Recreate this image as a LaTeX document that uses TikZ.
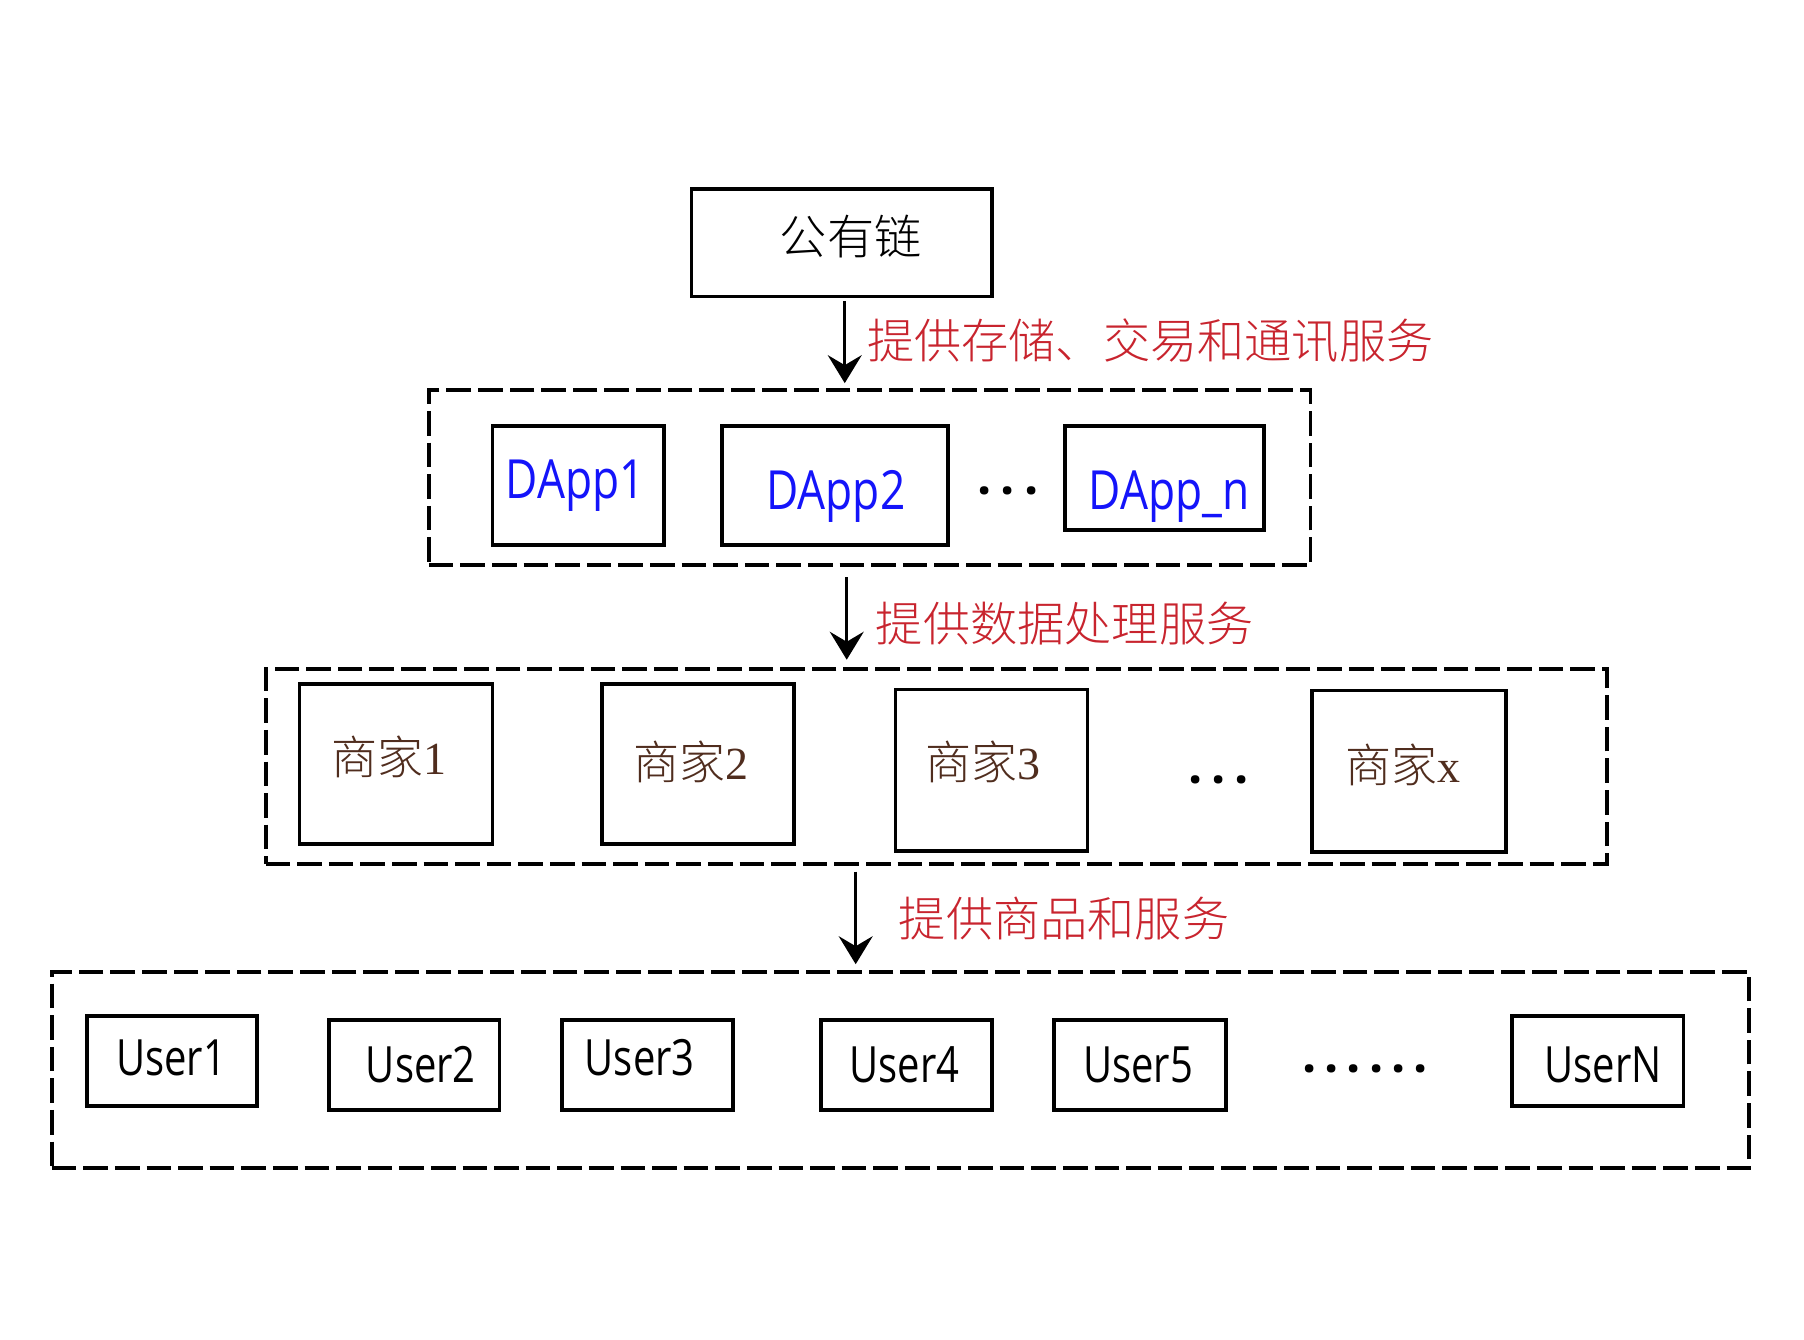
\documentclass[tikz,border=0pt]{standalone}
\usepackage{fontspec}
\usetikzlibrary{arrows.meta,positioning}
\setmainfont{Open Sans}[FakeStretch=0.8]
\newfontfamily\song{Noto Sans CJK SC Light}
\newfontfamily\tms{Liberation Serif}
\newfontfamily\dappfont{Open Sans}[FakeStretch=0.82]
\definecolor{lblred}{RGB}{200,36,46}
\definecolor{shbrown}{RGB}{80,45,30}
\definecolor{dblue}{RGB}{20,20,250}
\begin{document}
\begin{tikzpicture}[x=0.4975pt,y=-0.4975pt,
  solidbox/.style={draw=black,line width=1.95pt,rectangle,inner sep=0pt},
  dashbox/.style={draw=black,line width=1.9pt,rectangle,inner sep=0pt,dash pattern=on 12.3pt off 3.5pt},
  cjk/.style={font=\song\fontsize{23.6}{28}\selectfont,inner sep=0pt},
  lbl/.style={cjk,text=lblred,anchor=west},
  lat/.style={font=\fontsize{25}{30}\selectfont,inner sep=0pt,anchor=base},
  dapp/.style={font=\dappfont\fontsize{27}{32}\selectfont,inner sep=0pt,anchor=base,text=dblue},
  shj/.style={font=\song\fontsize{23}{28}\selectfont,text=shbrown,inner sep=0pt},
  dots/.style={font=\fontspec{Open Sans Bold}\fontsize{25}{30}\selectfont,inner sep=0pt},
  arr/.style={line width=1.3pt,-{Stealth[length=14pt,width=17pt,inset=5pt]}}]
\useasboundingbox (0,0) rectangle (1813.1,1346.7);
% helper to make a box from corners
\newcommand{\mybox}[6]{\node[#1,minimum width={(#5-#3)*0.4975pt},minimum height={(#6-#4)*0.4975pt}] (#2) at ({(#3+#5)/2},{(#4+#6)/2}) {};}
% top
\mybox{solidbox}{top}{695}{190}{997}{298}
\node[cjk] (toptxt) at (855,238) {公有链};
% layer 1
\mybox{dashbox}{d1}{431}{392}{1317}{568}
\mybox{solidbox}{da1}{495}{428}{667}{548}
\mybox{solidbox}{da2}{726}{428}{953}{548}
\mybox{solidbox}{dan}{1070}{428}{1270}{533}
\node[dapp] (da1t) at (578,501) {DApp1};
\node[dapp] (da2t) at (840,512) {DApp2};
\node[dapp] (dant) at (1175,512) {DApp\_n};
\node[dots] (dots1) at (1013,500) {·\hspace{4.5pt}·\hspace{4.5pt}·};
% layer 2
\mybox{dashbox}{d2}{267}{672}{1615}{868}
\mybox{solidbox}{s1}{301}{687}{495}{848}
\mybox{solidbox}{s2}{605}{687}{798}{848}
\mybox{solidbox}{s3}{900}{693}{1093}{855}
\mybox{solidbox}{sx}{1319}{694}{1514}{856}
\node[shj] (s1t) at (391,761) {商家{\tms 1}};
\node[shj] (s2t) at (694,766) {商家{\tms 2}};
\node[shj] (s3t) at (988,766) {商家{\tms 3}};
\node[shj] (sxt) at (1410,769) {商家{\tms x}};
\node[dots] (dots2) at (1225,791) {·\hspace{4.5pt}·\hspace{4.5pt}·};
% layer 3
\mybox{dashbox}{d3}{52}{977}{1758}{1174}
\mybox{solidbox}{u1}{87}{1021}{258}{1112}
\mybox{solidbox}{u2}{331}{1025}{502}{1116}
\mybox{solidbox}{u3}{565}{1025}{737}{1116}
\mybox{solidbox}{u4}{825}{1025}{997}{1116}
\mybox{solidbox}{u5}{1059}{1025}{1232}{1116}
\mybox{solidbox}{un}{1520}{1021}{1692}{1112}
\node[lat] (u1t) at (172,1081) {User1};
\node[lat] (u2t) at (423,1088) {User2};
\node[lat] (u3t) at (643,1081) {User3};
\node[lat] (u4t) at (909,1088) {User4};
\node[lat] (u5t) at (1144,1088) {User5};
\node[lat] (unt) at (1611,1088) {UserN};
\node[dots] (dots3) at (1372,1081) {·\hspace{4pt}·\hspace{4pt}·\hspace{4pt}·\hspace{4pt}·\hspace{4pt}·};
% arrows
\coordinate (a1) at (849,0);
\coordinate (a2) at (851,0);
\coordinate (a3) at (860,0);
\draw[arr,shorten <=1.5pt,shorten >=2.5pt] (top.south -| a1) -- (d1.north -| a1);
\draw[arr,shorten <=5pt,shorten >=3.5pt] (d1.south -| a2) -- (d2.north -| a2);
\draw[arr,shorten <=3pt,shorten >=3pt] (d2.south -| a3) -- (d3.north -| a3);
\node[lbl] (l1) at (871,342) {提供存储、交易和通讯服务};
\node[lbl] (l2) at (880,627) {提供数据处理服务};
\node[lbl] (l3) at (903,923) {提供商品和服务};
\end{tikzpicture}
\end{document}
